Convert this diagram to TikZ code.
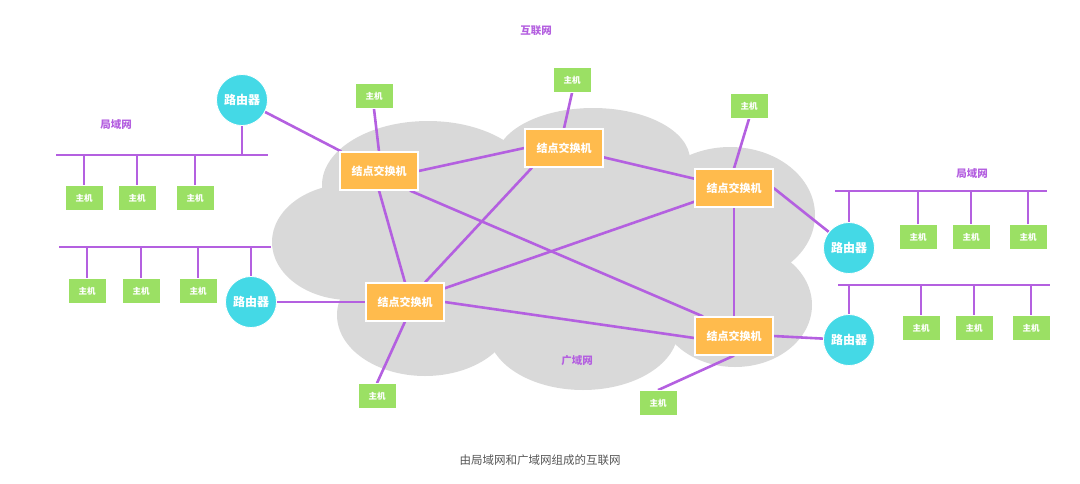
\documentclass[tikz,border=0pt]{standalone}
\usepackage{fontspec}
\newfontfamily\cjk{Noto Sans CJK SC}
\usetikzlibrary{backgrounds}
\definecolor{lp}{HTML}{B460E0}
\definecolor{sworange}{HTML}{FFBB4D}
\definecolor{hostgreen}{HTML}{9BE064}
\definecolor{rcyan}{HTML}{44D9E6}
\definecolor{cloudgray}{HTML}{D9D9D9}
\definecolor{captiongray}{HTML}{555555}
\begin{document}
\begin{tikzpicture}[x=1pt,y=-1pt,
  link/.style={draw=lp, line width=2.6pt},
  sw/.style={rectangle, fill=sworange, draw=white, line width=1.2pt, minimum width=78pt, minimum height=38pt, inner sep=0pt, text=white, font=\cjk\bfseries\fontsize{11}{13}\selectfont},
  host/.style={rectangle, fill=hostgreen, draw=white, line width=0.8pt, minimum width=38pt, minimum height=25pt, inner sep=0pt, text=white, font=\cjk\bfseries\fontsize{8.5}{10}\selectfont},
  router/.style={circle, fill=rcyan, draw=white, line width=0.8pt, minimum size=51pt, inner sep=0pt, text=white, font=\cjk\bfseries\fontsize{12}{14}\selectfont},
  lbl/.style={text=lp, font=\cjk\bfseries\fontsize{10.5}{12}\selectfont},
  captext/.style={text=captiongray, font=\cjk\fontsize{11.5}{13}\selectfont}]
\useasboundingbox (0,0) rectangle (1080,483);

% labels
\node[lbl] (tnet) at (536,31) {互联网};
\node[lbl] (twan) at (577,361) {广域网};
\node[lbl] (tlan1) at (116,124) {局域网};
\node[lbl] (tlan2) at (972,173) {局域网};
\node[captext] (caption) at (540,460) {由局域网和广域网组成的互联网};

% switches
\node[sw] (s1) at (379,171) {结点交换机};
\node[sw] (s2) at (564,148) {结点交换机};
\node[sw] (s3) at (734,188) {结点交换机};
\node[sw] (s4) at (405,302) {结点交换机};
\node[sw] (s5) at (734,336) {结点交换机};

% WAN hosts
\node[host] (hs1) at (374,96) {主机};
\node[host] (hs2) at (572,80) {主机};
\node[host] (hs3) at (749,106) {主机};
\node[host] (hs4) at (377,396) {主机};
\node[host] (hs5) at (658,403) {主机};

% routers
\node[router] (r1) at (242,100) {路由器};
\node[router] (r2) at (251,302) {路由器};
\node[router] (r3) at (849,248) {路由器};
\node[router] (r4) at (849,340) {路由器};

% LAN hosts
\node[host] (a1) at (84,198) {主机};
\node[host] (a2) at (137,198) {主机};
\node[host] (a3) at (195,198) {主机};
\node[host] (b1) at (87,291) {主机};
\node[host] (b2) at (141,291) {主机};
\node[host] (b3) at (198,291) {主机};
\node[host] (c1) at (918,237) {主机};
\node[host] (c2) at (971,237) {主机};
\node[host] (c3) at (1028,237) {主机};
\node[host] (d1) at (921,328) {主机};
\node[host] (d2) at (974,328) {主机};
\node[host] (d3) at (1031,328) {主机};

% bus end points
\coordinate (bus1l) at (56,155);
\coordinate (bus1r) at (268,155);
\coordinate (bus2l) at (59,247);
\coordinate (bus2r) at (271,247);
\coordinate (bus3l) at (835,191);
\coordinate (bus3r) at (1047,191);
\coordinate (bus4l) at (838,285);
\coordinate (bus4r) at (1050,285);

\begin{scope}[on background layer]
  % cloud
  \fill[cloudgray] (350,242) ellipse [x radius=78, y radius=58];
  \fill[cloudgray] (428,185) ellipse [x radius=106, y radius=64];
  \fill[cloudgray] (593,160) ellipse [x radius=97, y radius=52];
  \fill[cloudgray] (730,215) ellipse [x radius=85, y radius=68];
  \fill[cloudgray] (735,305) ellipse [x radius=77, y radius=62];
  \fill[cloudgray] (583,330) ellipse [x radius=95, y radius=60];
  \fill[cloudgray] (425,315) ellipse [x radius=88, y radius=61];
  \fill[cloudgray] (560,250) ellipse [x radius=210, y radius=100];

  % buses
  \draw[link] (bus1l) -- (bus1r);
  \draw[link] (bus2l) -- (bus2r);
  \draw[link] (bus3l) -- (bus3r);
  \draw[link] (bus4l) -- (bus4r);
  \foreach \h in {a1,a2,a3} \draw[link] (\h.north) -- (\h.north |- bus1l);
  \foreach \h in {b1,b2,b3} \draw[link] (\h.north) -- (\h.north |- bus2l);
  \foreach \h in {c1,c2,c3} \draw[link] (\h.north) -- (\h.north |- bus3l);
  \foreach \h in {d1,d2,d3} \draw[link] (\h.north) -- (\h.north |- bus4l);
  \draw[link] (r1.south) -- (r1.south |- bus1l);
  \draw[link] (r2.north) -- (r2.north |- bus2l);
  \draw[link] (r3.north) -- (r3.north |- bus3l);
  \draw[link] (r4.north) -- (r4.north |- bus4l);

  % WAN links
  \draw[link] (r1) -- (s1);
  \draw[link] (r2) -- (s4);
  \draw[link] (s3.east) -- (r3);
  \draw[link] (s5.east) -- (r4);
  \draw[link] (s1.east) -- (s2.west);
  \draw[link] (s2) -- (s3);
  \draw[link] ([xshift=-32pt]s2.south) -- ([xshift=20pt]s4.north);
  \draw[link] (s1.south) -- (s4.north);
  \draw[link] ([xshift=31pt]s1.south) -- ([xshift=-31pt]s5.north);
  \draw[link] (s3) -- (s4);
  \draw[link] (s3.south) -- (s5.north);
  \draw[link] (s4.east) -- ([yshift=-2pt]s5.west);
  \draw[link] (hs1.south) -- (s1.north);
  \draw[link] (hs2.south) -- (s2.north);
  \draw[link] (hs3.south) -- (s3.north);
  \draw[link] (s4.south) -- (hs4.north);
  \draw[link] (s5.south) -- (hs5.north);
\end{scope}
\end{tikzpicture}
\end{document}
